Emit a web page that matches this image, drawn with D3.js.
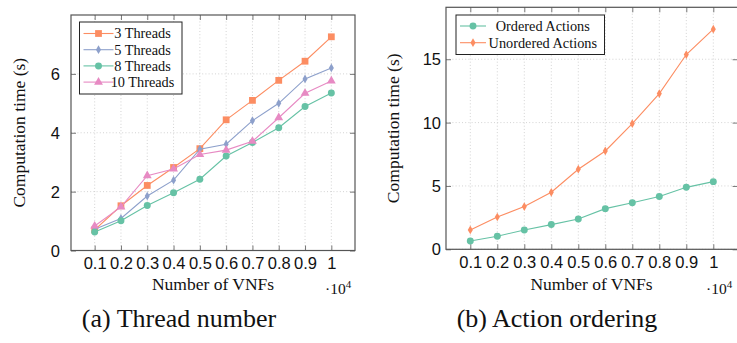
<!DOCTYPE html>
<html>
<head>
<meta charset="utf-8">
<script src="https://cdn.jsdelivr.net/npm/d3@7"></script>
<style>
  body { margin: 0; background: #fff; }
  svg { font-family: "Liberation Serif", "DejaVu Serif", serif; }
</style>
</head>
<body>
<svg id="chart" width="737" height="343"></svg>
<script>
// x values (in units of 10^4 VNFs)
const vnfs = [0.1, 0.2, 0.3, 0.4, 0.5, 0.6, 0.7, 0.8, 0.9, 1];
const xTickLabels = ["0.1", "0.2", "0.3", "0.4", "0.5", "0.6", "0.7", "0.8", "0.9", "1"];

// (a) thread number
const threads3 = [0.70, 1.52, 2.21, 2.82, 3.46, 4.44, 5.10, 5.78, 6.43, 7.26];
const threads5 = [0.72, 1.09, 1.85, 2.39, 3.44, 3.61, 4.41, 5.00, 5.83, 6.20];
const threads8 = [0.63, 1.01, 1.53, 1.96, 2.42, 3.21, 3.67, 4.17, 4.89, 5.35];
const threads10 = [0.83, 1.48, 2.54, 2.77, 3.26, 3.41, 3.71, 4.51, 5.34, 5.76];
const leftYTicks = [0, 2, 4, 6];

// (b) action ordering
const orderedActions = [0.66, 1.03, 1.53, 1.95, 2.39, 3.21, 3.68, 4.16, 4.89, 5.34];
const unorderedActions = [1.53, 2.55, 3.37, 4.50, 6.32, 7.76, 9.92, 12.29, 15.37, 17.37];
const rightYTicks = [0, 5, 10, 15];

const ORANGE = "#fc8d62", BLUE = "#8da0cb", GREEN = "#66c2a5", PINK = "#e78ac3";

const svg = d3.select("#chart");

function panel(cfg) {
  const g = svg.append("g");
  const x = d3.scaleLinear().domain([0.01, 1.09]).range([cfg.left, cfg.right]);
  const y = d3.scaleLinear().domain([0, cfg.ymax]).range([cfg.bottom, cfg.top]);

  // dotted grid
  g.append("g").selectAll("line").data(vnfs).join("line")
    .attr("x1", d => x(d)).attr("x2", d => x(d))
    .attr("y1", cfg.top).attr("y2", cfg.bottom)
    .attr("stroke", "#c8c8c8").attr("stroke-width", 0.8).attr("stroke-dasharray", "1,2.2");
  g.append("g").selectAll("line").data(cfg.yTicks).join("line")
    .attr("x1", cfg.left).attr("x2", cfg.right)
    .attr("y1", d => y(d)).attr("y2", d => y(d))
    .attr("stroke", "#c8c8c8").attr("stroke-width", 0.8).attr("stroke-dasharray", "1,2.2");

  // axes with inward ticks on all four sides
  const tk = 5;
  const bottom = g.append("g").attr("transform", `translate(0,${cfg.bottom})`)
    .call(d3.axisBottom(x).tickValues(vnfs).tickSize(-tk).tickFormat((d, i) => xTickLabels[i]));
  const top = g.append("g").attr("transform", `translate(0,${cfg.top})`)
    .call(d3.axisTop(x).tickValues(vnfs).tickSize(-tk).tickFormat(""));
  const leftAx = g.append("g").attr("transform", `translate(${cfg.left},0)`)
    .call(d3.axisLeft(y).tickValues(cfg.yTicks).tickSize(-tk).tickFormat(d3.format("d")));
  const rightAx = g.append("g").attr("transform", `translate(${cfg.right},0)`)
    .call(d3.axisRight(y).tickValues(cfg.yTicks).tickSize(-tk).tickFormat(""));
  [bottom, top, leftAx, rightAx].forEach(a => {
    a.select(".domain").remove();
    a.selectAll(".tick line").attr("stroke", "#777").attr("stroke-width", 1);
  });
  bottom.selectAll("text").attr("y", 18.5).attr("dy", null)
    .attr("font-size", 16.5).attr("fill", "#111").attr("font-family", null);
  leftAx.selectAll("text").attr("x", cfg.yLabelX - cfg.left).attr("dy", "0.34em")
    .attr("font-size", 16.5).attr("fill", "#111").attr("font-family", null);

  // frame
  g.append("rect").attr("x", cfg.left).attr("y", cfg.top)
    .attr("width", cfg.right - cfg.left).attr("height", cfg.bottom - cfg.top)
    .attr("fill", "none").attr("stroke", "#555").attr("stroke-width", 1.2);

  // series
  const line = d3.line().x((d, i) => x(vnfs[i])).y(d => y(d));
  cfg.series.forEach(s => {
    g.append("path").datum(s.values).attr("d", line)
      .attr("fill", "none").attr("stroke", s.color).attr("stroke-width", 1.1);
    g.append("g").selectAll("path").data(s.values).join("path")
      .attr("transform", (d, i) => `translate(${x(vnfs[i])},${y(d)})`)
      .attr("d", d3.symbol().type(s.symbol).size(s.size))
      .attr("fill", s.color);
  });

  // legend
  const lg = g.append("g");
  lg.append("rect").attr("x", cfg.legend.x).attr("y", cfg.legend.y)
    .attr("width", cfg.legend.w).attr("height", cfg.legend.h)
    .attr("fill", "#fff").attr("stroke", "#222").attr("stroke-width", 1);
  cfg.series.forEach((s, i) => {
    const ly = cfg.legend.y + cfg.legend.first + i * cfg.legend.step;
    const lx = cfg.legend.x + 4;
    lg.append("line").attr("x1", lx).attr("x2", lx + cfg.legend.sample)
      .attr("y1", ly).attr("y2", ly).attr("stroke", s.color).attr("stroke-width", 1.1);
    lg.append("path").attr("transform", `translate(${lx + cfg.legend.sample / 2},${ly})`)
      .attr("d", d3.symbol().type(s.symbol).size(s.size)).attr("fill", s.color);
    lg.append("text").attr("x", cfg.legend.textX).attr("y", ly).attr("dy", "0.34em")
      .attr("text-anchor", "middle").attr("font-size", 14.3).attr("fill", "#111")
      .text(s.name);
  });

  // axis titles
  g.append("text").attr("x", (cfg.left + Math.min(cfg.right, 737)) / 2).attr("y", 289.5)
    .attr("text-anchor", "middle").attr("font-size", 17.5).attr("fill", "#111")
    .text("Number of VNFs");
  g.append("text").attr("transform", `translate(${cfg.yTitleX},${(cfg.top + cfg.bottom) / 2}) rotate(-90)`)
    .attr("text-anchor", "middle").attr("font-size", 17.5).attr("fill", "#111")
    .text("Computation time (s)");
  const ex = g.append("text").attr("x", cfg.expX).attr("y", 294).attr("font-size", 15.5).attr("fill", "#111");
  ex.append("tspan").text("·10");
  ex.append("tspan").attr("dy", -6).attr("font-size", 11).text("4");

  // caption
  svg.append("text").attr("x", cfg.captionX).attr("y", 327)
    .attr("text-anchor", "middle").attr("font-size", 26).attr("fill", "#111")
    .text(cfg.caption);
}

panel({
  left: 71, right: 355, top: 15, bottom: 250.5, ymax: 8.0, yTicks: leftYTicks,
  yLabelX: 60, yTitleX: 25, expX: 325, captionX: 179, caption: "(a) Thread number",
  legend: { x: 79.5, y: 22, w: 102.5, h: 72, first: 11.5, step: 16.2, sample: 30, textX: 142.5 },
  series: [
    { name: "3 Threads", values: threads3, color: ORANGE, symbol: d3.symbolSquare, size: 46 },
    { name: "5 Threads", values: threads5, color: BLUE, symbol: d3.symbolDiamond, size: 22 },
    { name: "8 Threads", values: threads8, color: GREEN, symbol: d3.symbolCircle, size: 38 },
    { name: "10 Threads", values: threads10, color: PINK, symbol: d3.symbolTriangle, size: 34 }
  ]
});

panel({
  left: 446, right: 737.6, top: 7.3, bottom: 249.3, ymax: 19.1, yTicks: rightYTicks,
  yLabelX: 441, yTitleX: 399, expX: 706, captionX: 557, caption: "(b) Action ordering",
  legend: { x: 456, y: 15, w: 148.5, h: 39.5, first: 11, step: 16.7, sample: 26, textX: 542.8 },
  series: [
    { name: "Ordered Actions", values: orderedActions, color: GREEN, symbol: d3.symbolCircle, size: 38 },
    { name: "Unordered Actions", values: unorderedActions, color: ORANGE, symbol: d3.symbolDiamond, size: 22 }
  ]
});
</script>
</body>
</html>
